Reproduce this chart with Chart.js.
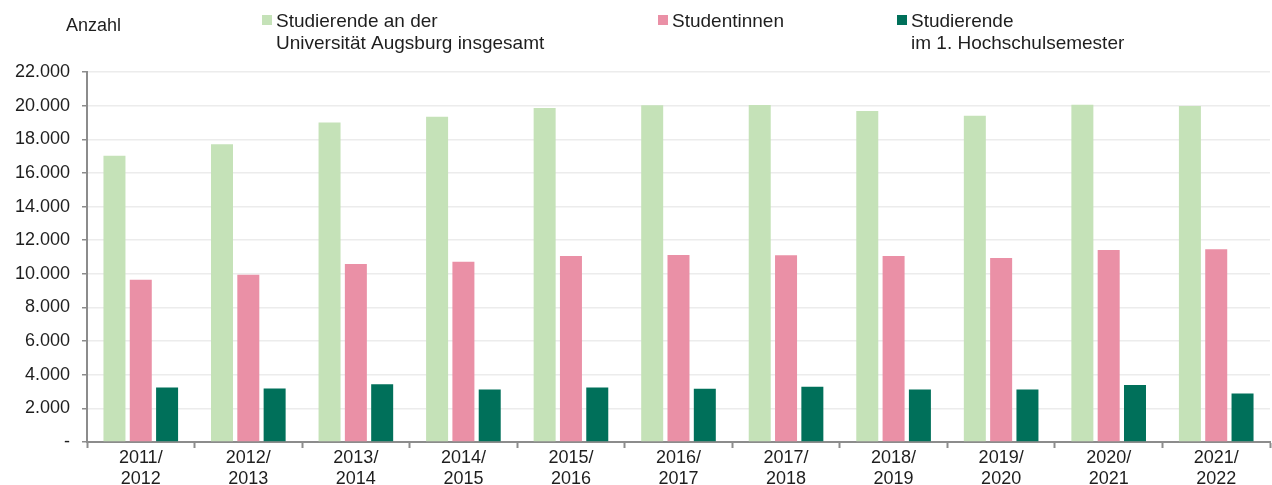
<!DOCTYPE html>
<html>
<head>
<meta charset="utf-8">
<script src="https://cdn.jsdelivr.net/npm/chart.js@4"></script>
<style>
  html, body { margin: 0; padding: 0; background: #ffffff; }
  #wrap { position: relative; width: 1272px; height: 485px; }
</style>
</head>
<body>
<div id="wrap"><canvas id="c" width="1272" height="485"></canvas></div>
<script>
// ---- data ----
const categories = [
  ['2011/', '2012'], ['2012/', '2013'], ['2013/', '2014'], ['2014/', '2015'],
  ['2015/', '2016'], ['2016/', '2017'], ['2017/', '2018'], ['2018/', '2019'],
  ['2019/', '2020'], ['2020/', '2021'], ['2021/', '2022']
];
const studierendeGesamt = [17020, 17700, 19000, 19340, 19860, 20020, 20040, 19680, 19400, 20060, 19980];
const studentinnen      = [9640, 9940, 10580, 10720, 11060, 11120, 11100, 11060, 10940, 11420, 11460];
const ersteSemester     = [3245, 3180, 3430, 3120, 3245, 3160, 3285, 3120, 3120, 3390, 2880];
const seriesLabels = [
  ['Studierende an der', 'Universität Augsburg insgesamt'],
  ['Studentinnen'],
  ['Studierende', 'im 1. Hochschulsemester']
];
const yAxisTitle = 'Anzahl';
const yMax = 22000;
const yStep = 2000;

// ---- style ----
const colors = ['#c5e2b8', '#ea90a6', '#00705a'];
const FONT = '"Liberation Sans", Arial, sans-serif';
const TEXT = '#1e1e1e';

function fmt(v) {
  if (v === 0) return '-';
  const s = String(Math.round(v));
  return s.replace(/\B(?=(\d{3})+(?!\d))/g, '.');
}

const legendPlugin = {
  id: 'customLegend',
  afterDraw(chart) {
    const ctx = chart.ctx;
    ctx.save();
    ctx.font = '18px ' + FONT;
    ctx.fillStyle = TEXT;
    ctx.textBaseline = 'alphabetic';
    ctx.textAlign = 'left';
    ctx.fillText(yAxisTitle, 66, 31);
    const xs = [262, 658, 897];
    chart.data.datasets.forEach((ds, i) => {
      ctx.fillStyle = ds.backgroundColor;
      ctx.fillRect(xs[i], 15, 10, 10);
      ctx.fillStyle = TEXT;
      ctx.font = '19px ' + FONT;
      seriesLabels[i].forEach((line, j) => {
        ctx.fillText(line, xs[i] + 14, 27 + j * 22);
      });
    });
    ctx.restore();
  }
};

new Chart(document.getElementById('c'), {
  type: 'bar',
  data: {
    labels: categories,
    datasets: [
      { label: seriesLabels[0].join(' '), data: studierendeGesamt, backgroundColor: colors[0] },
      { label: seriesLabels[1].join(' '), data: studentinnen, backgroundColor: colors[1] },
      { label: seriesLabels[2].join(' '), data: ersteSemester, backgroundColor: colors[2] }
    ]
  },
  options: {
    responsive: false,
    animation: false,
    devicePixelRatio: 1,
    layout: { padding: { top: 72, right: 2, left: 0, bottom: 0 } },
    datasets: { bar: { categoryPercentage: 0.734, barPercentage: 0.836, borderWidth: 0 } },
    plugins: { legend: { display: false }, tooltip: { enabled: false } },
    scales: {
      x: {
        offset: true,
        grid: { offset: true, drawOnChartArea: false, drawTicks: true, tickLength: 6, tickColor: '#8c8c8c', tickWidth: 2 },
        border: { display: true, color: '#8c8c8c', width: 2 },
        ticks: { color: TEXT, font: { family: FONT, size: 18, lineHeight: 1.2 }, padding: -1, maxRotation: 0, autoSkip: false },
        afterFit(s) { s.height = 43; }
      },
      y: {
        min: 0, max: yMax,
        grid: { color: '#ececec', lineWidth: 1.5, drawTicks: true, tickLength: 5, tickColor: '#8c8c8c', tickWidth: 1.5 },
        border: { display: true, color: '#8c8c8c', width: 2 },
        ticks: { stepSize: yStep, color: TEXT, font: { family: FONT, size: 18 }, padding: 12, callback: (v) => fmt(v) },
        afterFit(s) { s.width = 87; }
      }
    }
  },
  plugins: [legendPlugin]
});
</script>
</body>
</html>
